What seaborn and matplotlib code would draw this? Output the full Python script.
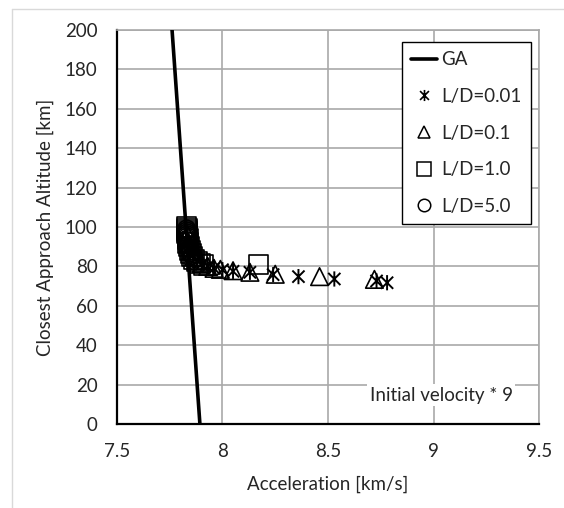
import numpy as np
import pandas as pd
import matplotlib
matplotlib.use("Agg")
import matplotlib.pyplot as plt
from matplotlib.path import Path
from matplotlib.lines import Line2D
import seaborn as sns

# Gravity-assist reference line
ga_x = [7.761, 7.893]
ga_y = [200, 0]

# Aerogravity-assist solutions for each lift-to-drag ratio
ld001_x = [7.835, 7.845, 7.86, 7.88, 7.90, 7.93, 7.96, 8.00, 8.05, 8.13, 8.24, 8.36, 8.53, 8.73, 8.78]
ld001_y = [93, 89, 85.5, 83, 81, 80, 79, 78.3, 77.5, 77, 75.8, 74.8, 73.6, 72.6, 71.7]

ld01_x = [7.835, 7.84, 7.85, 7.865, 7.88, 7.90, 7.93, 7.96, 7.99, 8.05, 8.13, 8.25, 8.46, 8.72]
ld01_y = [96, 92, 88, 85, 83, 81.5, 80, 79, 78.5, 77.8, 77, 76, 74.8, 73.4]

ld1_x = [7.83, 7.831, 7.832, 7.833, 7.834, 7.835, 7.836, 7.838, 7.841, 7.845, 7.85, 7.857,
         7.866, 7.878, 7.893, 7.91, 8.17]
ld1_y = [100, 99, 98, 97, 96, 95, 94, 92, 90, 88, 86.5, 85, 83.5, 82.5, 81.5, 80.8, 80.9]

ld5_x = [7.83, 7.831, 7.832, 7.833, 7.834, 7.836, 7.837, 7.84, 7.844, 7.85, 7.857, 7.866]
ld5_y = [99, 98, 97, 96, 95, 94, 93, 91, 89, 87, 85.5, 84]

series_names = ["L/D=0.01", "L/D=0.1", "L/D=1.0", "L/D=5.0"]
x_ticks = [7.5, 8, 8.5, 9, 9.5]
y_ticks = list(range(0, 201, 20))

sns.set_theme(style="white")
plt.rcParams["font.family"] = ["Lato", "DejaVu Sans"]
FS = 13.5
TXT = "#262626"

# asterisk marker: an "x" crossed by a vertical stroke
star_path = Path(
    [(-1, -1), (1, 1), (-1, 1), (1, -1), (0, -1.25), (0, 1.25)],
    [Path.MOVETO, Path.LINETO, Path.MOVETO, Path.LINETO, Path.MOVETO, Path.LINETO],
)

fig = plt.figure(figsize=(5.64, 5.08), dpi=100)
ax = fig.add_axes([0.2074, 0.1654, 0.9557 - 0.2074, 0.941 - 0.1654])

ax.set_xlim(7.5, 9.5)
ax.set_ylim(0, 200)
ax.set_xticks(x_ticks)
ax.set_xticklabels(["7.5", "8", "8.5", "9", "9.5"])
ax.set_yticks(y_ticks)
ax.grid(True, color="#a9a9a9", linewidth=1.2)
ax.set_axisbelow(True)

sns.lineplot(x=ga_x, y=ga_y, sort=False, color="black", linewidth=2.6, ax=ax, zorder=3)

specs = [
    (ld001_x, ld001_y, star_path, 120, 1.4),
    (ld01_x, ld01_y, "^", 160, 1.2),
    (ld1_x, ld1_y, "s", 200, 1.2),
    (ld5_x, ld5_y, "o", 160, 1.2),
]
for (xs, ys, mk, sz, lw) in specs[::-1]:
    sns.scatterplot(x=xs, y=ys, marker=mk, s=sz, facecolor="none",
                    edgecolor="black", linewidth=lw, ax=ax, zorder=4)

for side in ["left", "bottom"]:
    ax.spines[side].set_color("black")
    ax.spines[side].set_linewidth(1.6)
for side in ["top", "right"]:
    ax.spines[side].set_color("#a9a9a9")
    ax.spines[side].set_linewidth(1.2)

ax.tick_params(axis="both", length=0, labelsize=FS, colors=TXT)
ax.tick_params(axis="x", pad=14)
ax.tick_params(axis="y", pad=14)
ax.set_xlabel("Acceleration [km/s]", fontsize=FS, color=TXT, labelpad=11)
ax.set_ylabel("Closest Approach Altitude [km]", fontsize=FS, color=TXT, labelpad=8)

handles = [
    Line2D([], [], color="black", linewidth=2.6),
    Line2D([], [], linestyle="", marker=star_path, markersize=8, markerfacecolor="none",
           markeredgecolor="black", markeredgewidth=1.2),
    Line2D([], [], linestyle="", marker="^", markersize=9, markerfacecolor="none",
           markeredgecolor="black", markeredgewidth=1.1),
    Line2D([], [], linestyle="", marker="s", markersize=10, markerfacecolor="none",
           markeredgecolor="black", markeredgewidth=1.1),
    Line2D([], [], linestyle="", marker="o", markersize=9, markerfacecolor="none",
           markeredgecolor="black", markeredgewidth=1.1),
]
leg = ax.legend(handles, ["GA"] + series_names, loc="upper right",
                bbox_to_anchor=(0.981, 0.97), fontsize=FS, frameon=True,
                fancybox=False, edgecolor="black", framealpha=1,
                handlelength=1.35, handletextpad=0.25, labelspacing=1.05,
                borderpad=0.5, borderaxespad=0)
leg.get_frame().set_linewidth(1.0)
for t in leg.get_texts():
    t.set_color(TXT)

ax.text(9.036, 14.7, "Initial velocity * 9", fontsize=FS, color=TXT,
        ha="center", va="center", zorder=5,
        bbox=dict(facecolor="white", edgecolor="none", pad=2))

# light chart-area border on the left and top
fig.add_artist(Line2D([12 / 564, 12 / 564], [0, 1 - 9 / 508], color="#d9d9d9",
                      linewidth=1.0, transform=fig.transFigure))
fig.add_artist(Line2D([12 / 564, 1], [1 - 9 / 508, 1 - 9 / 508], color="#d9d9d9",
                      linewidth=1.0, transform=fig.transFigure))

fig.savefig("out.png", dpi=100, facecolor="white")
